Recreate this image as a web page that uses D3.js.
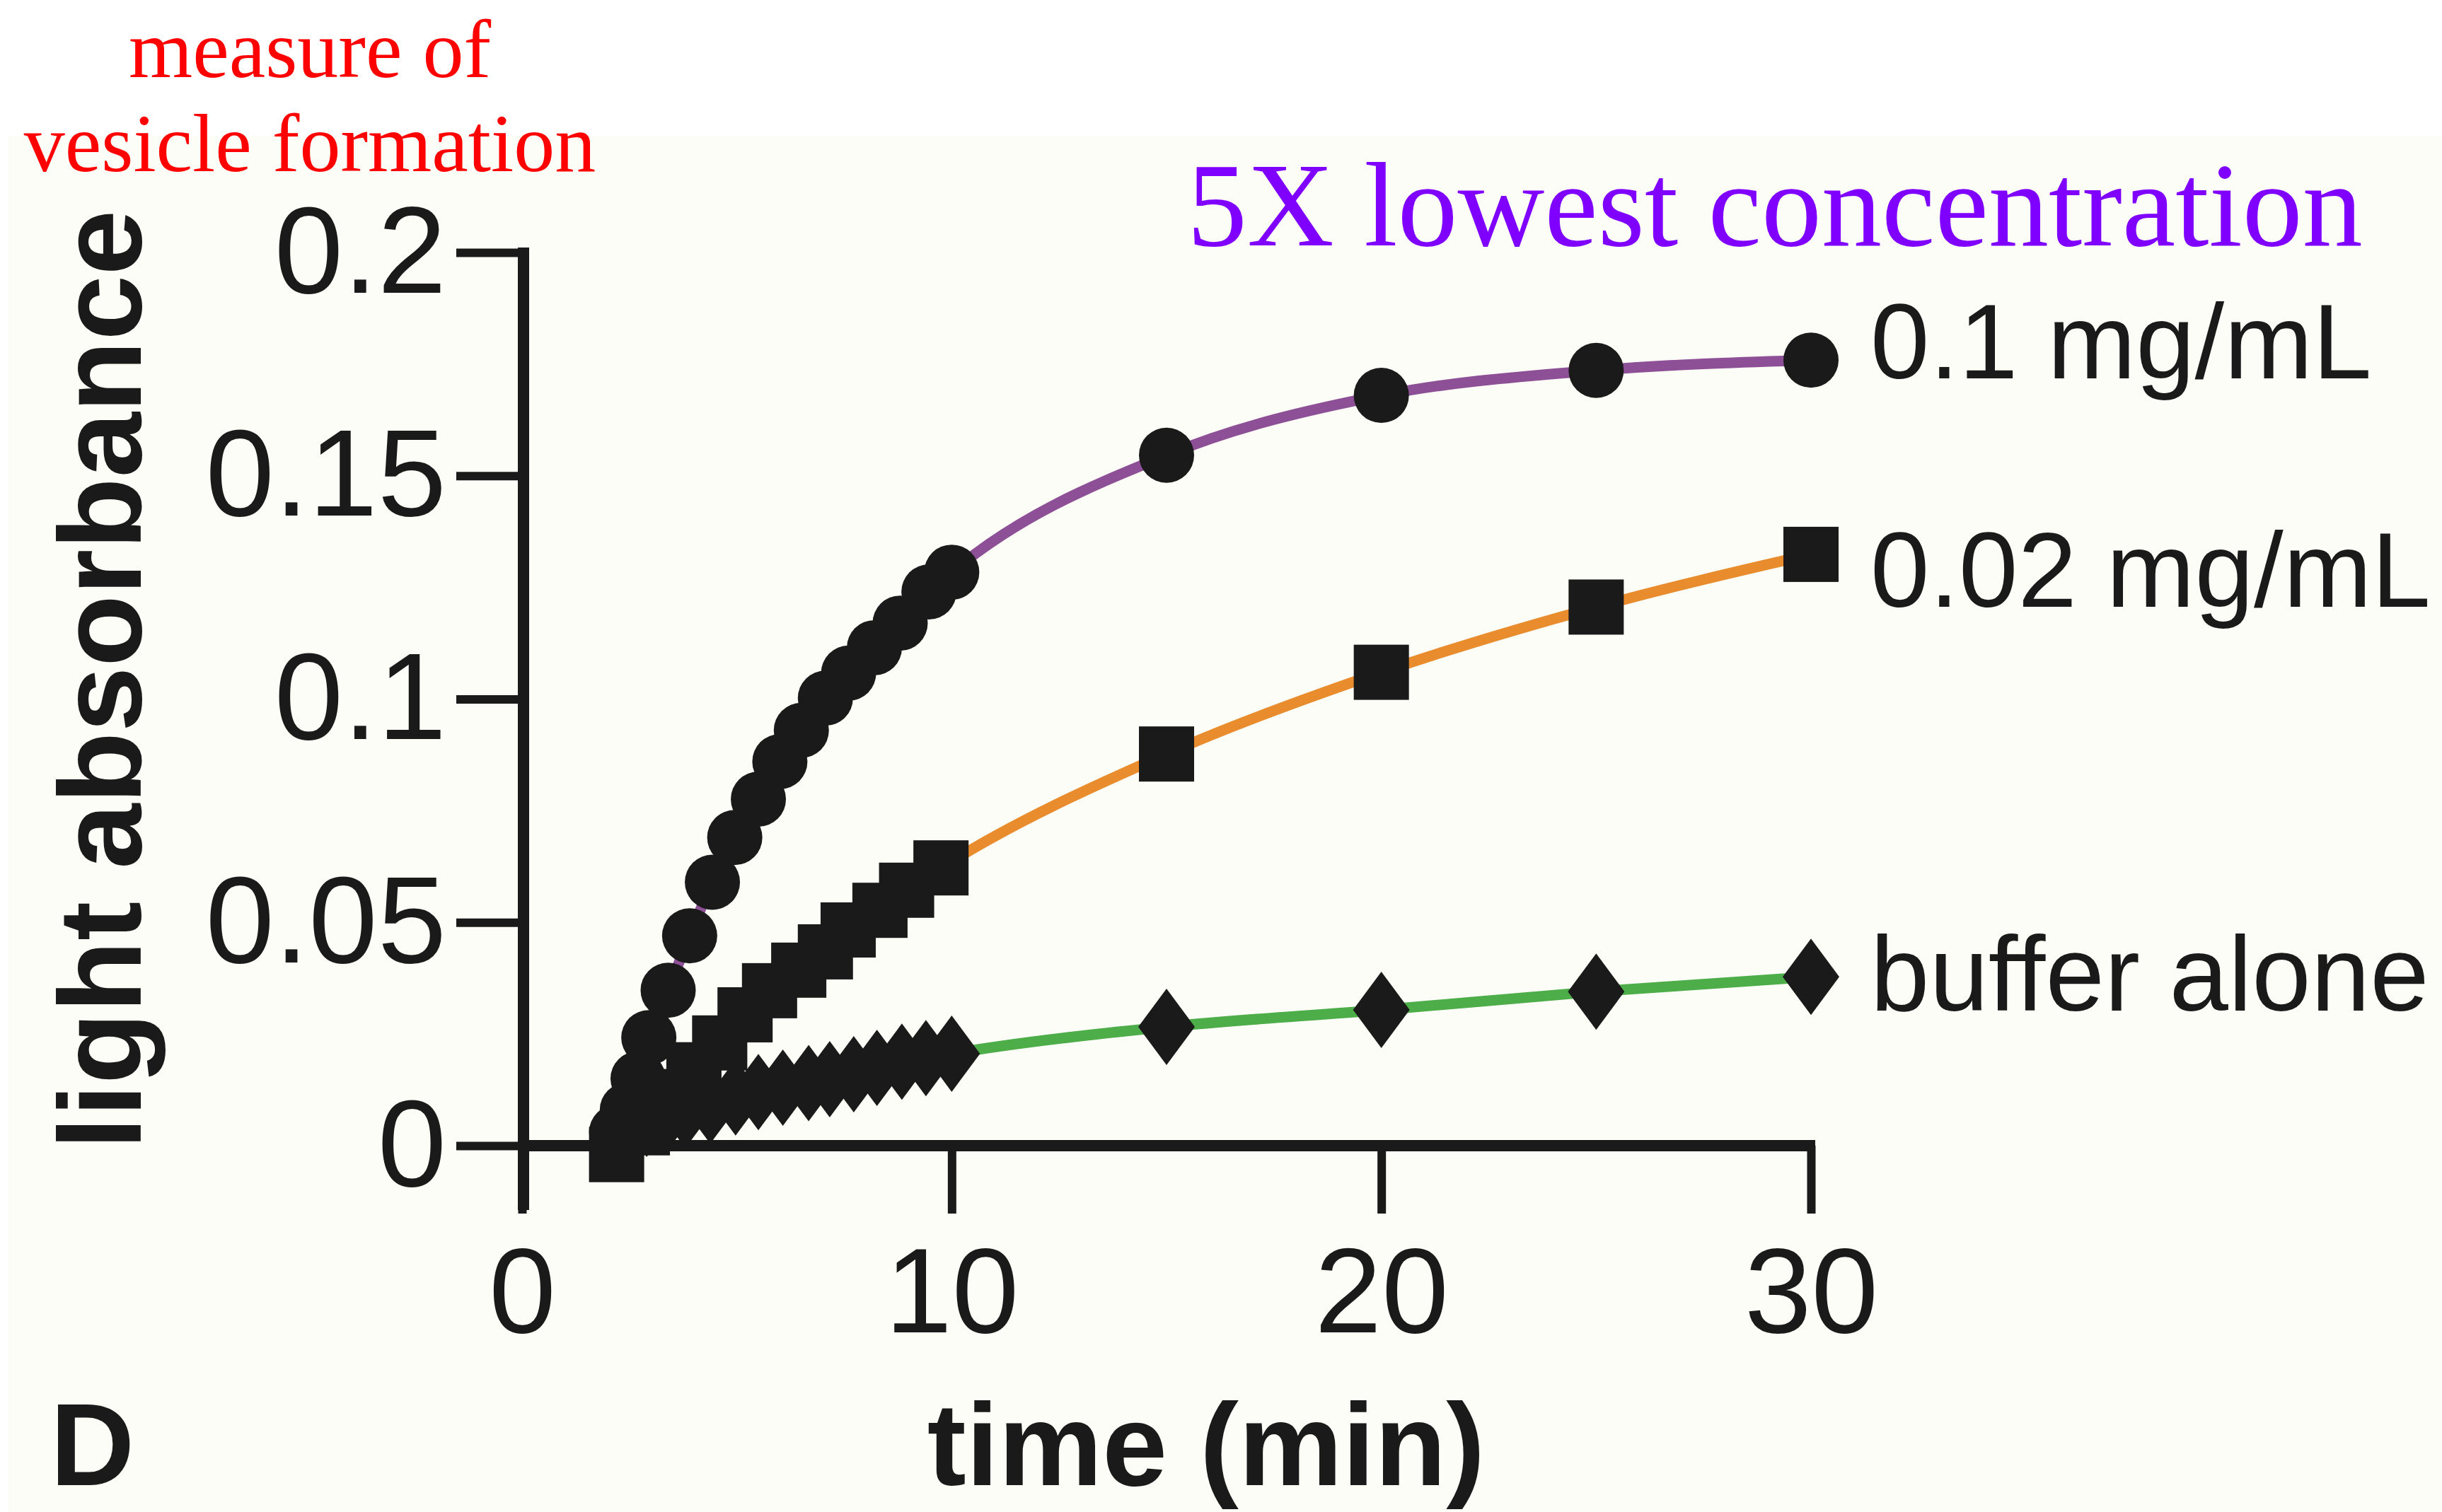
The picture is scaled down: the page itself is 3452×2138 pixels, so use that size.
<!DOCTYPE html>
<html>
<head>
<meta charset="utf-8">
<script src="https://cdn.jsdelivr.net/npm/d3@7"></script>
<style>
  html, body { margin: 0; padding: 0; background: #ffffff; }
  svg { display: block; }
</style>
</head>
<body>
<svg id="chart" width="3452" height="2138"></svg>
<script>
// ---------------- data ----------------
const seriesNames = ["0.1 mg/mL", "0.02 mg/mL", "buffer alone"];

const timeCircle = [2.2, 2.45, 2.7, 2.95, 3.4, 3.9, 4.43, 4.95, 5.5, 6.0, 6.5, 7.06, 7.6, 8.2, 8.8, 9.47, 10, 15, 20, 25, 30];
const absCircle  = [0.003, 0.008, 0.015, 0.0242, 0.0348, 0.047, 0.059, 0.069, 0.0776, 0.086, 0.093, 0.1002, 0.1058, 0.1115, 0.117, 0.124, 0.1284, 0.1546, 0.168, 0.1736, 0.1759];

const timeSquare = [2.2, 2.8, 3.4, 4.0, 4.6, 5.19, 5.76, 6.44, 7.06, 7.59, 8.33, 8.95, 9.75, 15, 20, 25, 30];
const absSquare  = [-0.002, 0.004, 0.011, 0.017, 0.023, 0.0293, 0.0347, 0.0393, 0.0434, 0.0483, 0.0527, 0.0572, 0.0622, 0.0877, 0.106, 0.1206, 0.1324];

const timeDiamond = [2.4, 2.9, 3.35, 3.8, 4.38, 4.97, 5.5, 6.07, 6.67, 7.16, 7.72, 8.26, 8.84, 9.4, 10, 15, 20, 25, 30];
const absDiamond  = [0.005, 0.006, 0.007, 0.008, 0.009, 0.0108, 0.012, 0.013, 0.014, 0.0149, 0.016, 0.0174, 0.0188, 0.0196, 0.0206, 0.0266, 0.0304, 0.0345, 0.0378];

const xTicks = [0, 10, 20, 30];
const xTickLabels = ["0", "10", "20", "30"];
const yTicks = [0, 0.05, 0.1, 0.15, 0.2];
const yTickLabels = ["0", "0.05", "0.1", "0.15", "0.2"];

const xTitle = "time (min)";
const yTitle = "light absorbance";
const panelLetter = "D";
const noteLines = ["measure of", "vesicle formation"];
const headline = "5X lowest concentration";

// ---------------- setup ----------------
const svg = d3.select("#chart");
const W = 3452, H = 2138;
const SANS = "'Liberation Sans', Arial, Helvetica, sans-serif";
const SERIF = "'Liberation Serif', 'Times New Roman', Times, serif";
const INK = "#1a1a1a";

// cream page background
svg.append("rect").attr("x", 12).attr("y", 192).attr("width", W - 12).attr("height", H - 192)
  .attr("fill", "#fdfdf7");

const x = d3.scaleLinear().domain([0, 30]).range([738, 2560]);
const y = d3.scaleLinear().domain([0, 0.2]).range([1620, 357]);

const series = [
  { name: seriesNames[0], t: timeCircle,  v: absCircle,  color: "#8d4f96", shape: "circle",  dy: 26 },
  { name: seriesNames[1], t: timeSquare,  v: absSquare,  color: "#e98c2e", shape: "square",  dy: 74 },
  { name: seriesNames[2], t: timeDiamond, v: absDiamond, color: "#4cad49", shape: "diamond", dy: 48 }
];

// ---------------- lines ----------------
const line = d3.line().x(d => x(d[0])).y(d => y(d[1])).curve(d3.curveMonotoneX);
series.forEach(s => {
  const pts = s.t.map((t, i) => [t, s.v[i]]);
  svg.append("path").datum(pts)
    .attr("d", line)
    .attr("fill", "none")
    .attr("stroke", s.color)
    .attr("stroke-width", 15)
    .attr("stroke-linecap", "butt");
});

// ---------------- axes ----------------
const yAxis = d3.axisLeft(y).tickValues(yTicks).tickSize(95).tickPadding(14)
  .tickFormat(d => yTickLabels[yTicks.indexOf(d)]);
const gy = svg.append("g").attr("transform", "translate(740,0)").call(yAxis);
gy.select(".domain").remove();
gy.selectAll(".tick line").attr("stroke", INK).attr("stroke-width", 12);
gy.selectAll(".tick text").attr("fill", INK).attr("font-family", SANS).attr("font-size", 175);

const xAxis = d3.axisBottom(x).tickValues(xTicks).tickSize(96).tickPadding(47)
  .tickFormat(d => xTickLabels[xTicks.indexOf(d)]);
const gx = svg.append("g").attr("transform", "translate(0,1620)").call(xAxis);
gx.select(".domain").remove();
gx.selectAll(".tick line").attr("stroke", INK).attr("stroke-width", 12);
gx.selectAll(".tick text").attr("fill", INK).attr("font-family", SANS).attr("font-size", 170);

// axis lines (domain), drawn heavier
svg.append("line").attr("x1", x(0)).attr("x2", x(30) + 6)
  .attr("y1", y(0)).attr("y2", y(0)).attr("stroke", INK).attr("stroke-width", 16);
svg.append("line").attr("x1", x(0) + 2).attr("x2", x(0) + 2)
  .attr("y1", y(0.2) - 7).attr("y2", y(0) + 91).attr("stroke", INK).attr("stroke-width", 16);

// ---------------- markers ----------------
const mk = svg.append("g").attr("fill", INK);
series.forEach(s => {
  s.t.forEach((t, i) => {
    const cx = x(t), cy = y(s.v[i]);
    if (s.shape === "circle") {
      mk.append("circle").attr("cx", cx).attr("cy", cy).attr("r", 39);
    } else if (s.shape === "square") {
      mk.append("rect").attr("x", cx - 39).attr("y", cy - 39).attr("width", 78).attr("height", 78);
    } else {
      mk.append("path").attr("d", `M${cx},${cy - 54}L${cx + 40},${cy}L${cx},${cy + 54}L${cx - 40},${cy}Z`);
    }
  });
});

// ---------------- series labels ----------------
series.forEach(s => {
  const n = s.t.length;
  svg.append("text")
    .attr("x", x(s.t[n - 1]) + 84)
    .attr("y", y(s.v[n - 1]) + s.dy)
    .attr("font-family", SANS).attr("font-size", 150).attr("fill", INK)
    .text(s.name);
});

// ---------------- titles ----------------
svg.append("text").attr("x", 1705).attr("y", 2100).attr("text-anchor", "middle")
  .attr("font-family", SANS).attr("font-weight", "bold").attr("font-size", 165).attr("fill", INK)
  .text(xTitle);

svg.append("text").attr("transform", "translate(199,961) rotate(-90)").attr("text-anchor", "middle")
  .attr("font-family", SANS).attr("font-weight", "bold").attr("font-size", 166).attr("fill", INK)
  .text(yTitle);

svg.append("text").attr("x", 71).attr("y", 2100)
  .attr("font-family", SANS).attr("font-weight", "bold").attr("font-size", 165).attr("fill", INK)
  .text(panelLetter);

svg.append("text").attr("x", 1678).attr("y", 347)
  .attr("font-family", SERIF).attr("font-size", 170).attr("fill", "#8000ff")
  .text(headline);

noteLines.forEach((t, i) => {
  svg.append("text").attr("x", 438).attr("y", 109 + i * 133).attr("text-anchor", "middle")
    .attr("font-family", SERIF).attr("font-size", 116).attr("fill", "#ff0000")
    .text(t);
});
</script>
</body>
</html>
